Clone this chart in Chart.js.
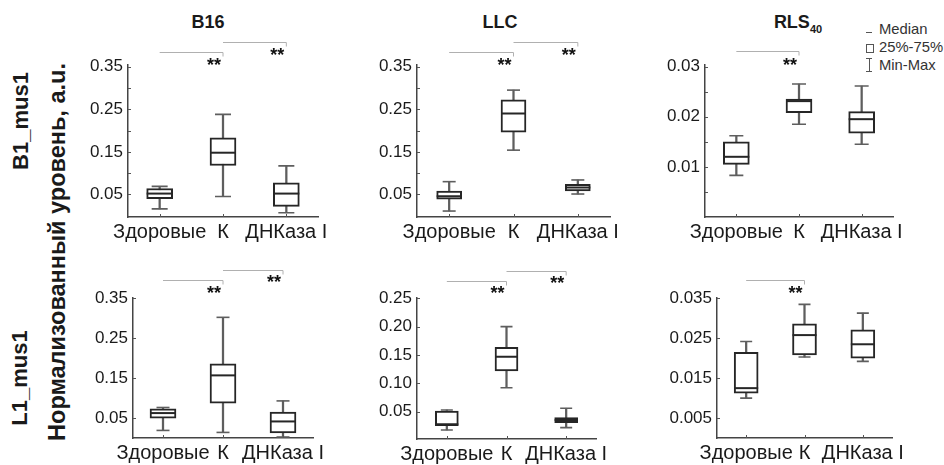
<!DOCTYPE html>
<html><head><meta charset="utf-8">
<script src="https://cdn.jsdelivr.net/npm/chart.js@4.4.1/dist/chart.umd.min.js"></script>
<style>
body{margin:0;background:#fff;width:944px;height:465px;overflow:hidden;position:relative;font-family:"Liberation Sans",Arial,sans-serif;color:#1a1a1a}
canvas{position:absolute}
.t{position:absolute;font-weight:bold;font-size:18px;transform:translate(-50%,-50%);white-space:nowrap}
.t sub{font-size:11px;vertical-align:-5px}
.r{position:absolute;font-weight:bold;transform:translate(-50%,-50%) rotate(-90deg);white-space:nowrap}
.lg{position:absolute;left:879px;top:20px;font-size:14.8px;line-height:18px;color:#333;white-space:nowrap}
.ic{position:absolute;border-color:#555;border-style:solid;border-width:0}
</style></head><body>
<div class="t" style="left:208px;top:22px">B16</div>
<div class="t" style="left:500px;top:22px">LLC</div>
<div class="t" style="left:798px;top:23px">RLS<sub>40</sub></div>
<div class="r" style="left:21px;top:121px;font-size:22px">B1_mus1</div>
<div class="r" style="left:20px;top:378px;font-size:22px">L1_mus1</div>
<div class="r" style="left:57px;top:252px;font-size:23.5px">Нормализованный уровень, a.u.</div>
<div class="lg">Median<br>25%-75%<br>Min-Max</div>
<div class="ic" style="left:866px;top:32px;width:6px;height:0;border-top-width:1.5px"></div>
<div class="ic" style="left:866px;top:44px;width:6px;height:7px;border-width:1px"></div>
<div class="ic" style="left:866px;top:58px;width:6px;height:0;border-top-width:1px"></div>
<div class="ic" style="left:869px;top:58px;width:0;height:13px;border-left-width:1px"></div>
<div class="ic" style="left:866px;top:71px;width:6px;height:0;border-top-width:1px"></div>
<script>
// ---- data ----
const categories = ['Здоровые', 'К', 'ДНКаза I'];

// B1_mus1 / B16
const b1B16Min = [0.016, 0.045, 0.007];
const b1B16Q1  = [0.040, 0.118, 0.022];
const b1B16Med = [0.052, 0.148, 0.052];
const b1B16Q3  = [0.064, 0.183, 0.077];
const b1B16Max = [0.069, 0.238, 0.117];
// B1_mus1 / LLC
const b1LLCMin = [0.011, 0.154, 0.051];
const b1LLCQ1  = [0.039, 0.196, 0.058];
const b1LLCMed = [0.046, 0.240, 0.066];
const b1LLCQ3  = [0.058, 0.272, 0.074];
const b1LLCMax = [0.080, 0.295, 0.084];
// B1_mus1 / RLS40
const b1RLSMin = [0.0083, 0.0185, 0.0145];
const b1RLSQ1  = [0.0105, 0.0208, 0.0167];
const b1RLSMed = [0.0120, 0.0231, 0.0195];
const b1RLSQ3  = [0.0150, 0.0235, 0.0210];
const b1RLSMax = [0.0162, 0.0265, 0.0261];
// L1_mus1 / B16
const l1B16Min = [0.019, 0.014, 0.0025];
const l1B16Q1  = [0.050, 0.0875, 0.0125];
const l1B16Med = [0.0625, 0.157, 0.0415];
const l1B16Q3  = [0.073, 0.186, 0.065];
const l1B16Max = [0.0765, 0.3025, 0.093];
// L1_mus1 / LLC
const l1LLCMin = [0.0177, 0.0923, 0.0218];
const l1LLCQ1  = [0.0253, 0.1218, 0.0306];
const l1LLCMed = [0.028, 0.147, 0.0354];
const l1LLCQ3  = [0.051, 0.1636, 0.0394];
const l1LLCMax = [0.053, 0.200, 0.056];
// L1_mus1 / RLS40
const l1RLSMin = [0.0100, 0.0203, 0.0192];
const l1RLSQ1  = [0.01125, 0.0208, 0.0200];
const l1RLSMed = [0.0125, 0.0258, 0.0235];
const l1RLSQ3  = [0.0215, 0.0286, 0.0271];
const l1RLSMax = [0.0242, 0.0335, 0.0313];

// tick values and labels
const ticksB16 = [0.05, 0.10, 0.15, 0.20, 0.25, 0.30, 0.35];
const labelsB16 = ['0.05', '', '0.15', '', '0.25', '', '0.35'];
const ticksRLSTop = [0.005, 0.010, 0.015, 0.020, 0.025, 0.030];
const labelsRLSTop = ['', '0.01', '', '0.02', '', '0.03'];
const ticksLLCBottom = [0.05, 0.10, 0.15, 0.20, 0.25];
const labelsLLCBottom = ['0.05', '0.10', '0.15', '0.20', '0.25'];
const ticksRLSBottom = [0.005, 0.010, 0.015, 0.020, 0.025, 0.030, 0.035];
const labelsRLSBottom = ['0.005', '', '0.015', '', '0.025', '', '0.035'];

// significance pairs (category indices) and marks
const pairsTwo = [[0, 1], [1, 2]];
const pairsOne = [[0, 1]];
const sigMark = '**';

// ---- drawing ----
Chart.defaults.font.family = '"Liberation Sans", Arial, sans-serif';
Chart.defaults.color = '#1a1a1a';

const decor = {
  id: 'decor',
  afterDraw(chart, args, o) {
    const ctx = chart.ctx, xs = chart.scales.x, ys = chart.scales.y, ca = chart.chartArea;
    ctx.save();
    ctx.strokeStyle = '#555'; ctx.lineWidth = 1;
    ys.ticks.forEach(t => {
      const y = Math.round(ys.getPixelForValue(t.value)) + 0.5;
      ctx.beginPath(); ctx.moveTo(ca.left, y); ctx.lineTo(ca.left + 3, y); ctx.stroke();
    });
    categories.forEach((c, i) => {
      const x = Math.round(xs.getPixelForValue(i)) + 0.5;
      ctx.beginPath(); ctx.moveTo(x, ca.bottom); ctx.lineTo(x, ca.bottom - 3); ctx.stroke();
    });
    o.pairs.forEach((p, k) => {
      const x1 = xs.getPixelForValue(p[0]), x2 = xs.getPixelForValue(p[1]);
      const y = Math.round(ca.top - o.bOff[k]) + 0.5;
      ctx.strokeStyle = '#b0b0b0'; ctx.lineWidth = 1;
      ctx.beginPath(); ctx.moveTo(x1, y); ctx.lineTo(x2, y); ctx.lineTo(x2, y + 4); ctx.stroke();
      ctx.fillStyle = '#111'; ctx.font = 'bold 18px "Liberation Sans", Arial';
      ctx.textAlign = 'center'; ctx.textBaseline = 'middle';
      ctx.fillText(sigMark, x2 - 9, ca.top - o.sOff[k] + 4);
    });
    ctx.restore();
  }
};

function panel(area, yMin, yMax, tickVals, tickLabels, mn, q1, med, q3, mx, boxW, capR, pairs, bOff, sOff) {
  const padL = 75, padT = 60, padR = 50, padB = 30;
  const cv = document.createElement('canvas');
  const w = area.r - area.l + padL + padR, h = area.b - area.t + padT + padB;
  cv.width = w; cv.height = h;
  cv.style.left = (area.l - padL) + 'px'; cv.style.top = (area.t - padT) + 'px';
  cv.style.width = w + 'px'; cv.style.height = h + 'px';
  document.body.appendChild(cv);
  const boxes = q1.map((v, i) => [v, q3[i]]);
  const whiskers = mn.map((v, i) => [v, mx[i]]);
  new Chart(cv, {
    type: 'bar',
    data: {
      labels: categories,
      datasets: [
        {type: 'bar', data: whiskers, backgroundColor: '#5e5e5e', borderWidth: 0, barThickness: 1.6, grouped: false, order: 4},
        {type: 'bar', data: boxes, backgroundColor: '#ffffff', borderColor: '#262626', borderWidth: 2, borderSkipped: false, barThickness: boxW, grouped: false, order: 3},
        {type: 'line', data: mn, showLine: false, pointStyle: 'line', pointRadius: capR, pointHoverRadius: capR, pointBorderColor: '#5e5e5e', pointBorderWidth: 1.6, order: 2},
        {type: 'line', data: mx, showLine: false, pointStyle: 'line', pointRadius: capR, pointHoverRadius: capR, pointBorderColor: '#5e5e5e', pointBorderWidth: 1.6, order: 2},
        {type: 'line', data: med, showLine: false, pointStyle: 'line', pointRadius: boxW / 2, pointHoverRadius: boxW / 2, pointBorderColor: '#262626', pointBorderWidth: 2, order: 1}
      ]
    },
    options: {
      responsive: false, animation: false, devicePixelRatio: 1,
      layout: {padding: {top: padT, right: padR, left: 0, bottom: 0}},
      plugins: {legend: {display: false}, tooltip: {enabled: false}, decor: {pairs, bOff, sOff}},
      scales: {
        x: {
          offset: true,
          grid: {display: false, drawTicks: false},
          border: {display: true, color: '#444', width: 1.5},
          ticks: {font: {size: 20}, padding: 3, maxRotation: 0, autoSkip: false},
          afterFit: s => { s.height = padB; }
        },
        y: {
          min: yMin, max: yMax,
          grid: {display: false, drawTicks: false},
          border: {display: true, color: '#444', width: 1.5},
          ticks: {font: {size: 17}, padding: 5, callback: (v, i) => tickLabels[i]},
          afterBuildTicks: s => { s.ticks = tickVals.map(v => ({value: v})); },
          afterFit: s => { s.width = padL; }
        }
      }
    },
    plugins: [decor]
  });
}

panel({l: 128, r: 318, t: 65, b: 217}, -0.003, 0.354, ticksB16, labelsB16, b1B16Min, b1B16Q1, b1B16Med, b1B16Q3, b1B16Max, 26, 8, pairsTwo, [13, 23], [3, 13]);
panel({l: 417, r: 610, t: 65, b: 217}, -0.003, 0.354, ticksB16, labelsB16, b1LLCMin, b1LLCQ1, b1LLCMed, b1LLCQ3, b1LLCMax, 25, 6.5, pairsTwo, [13, 23], [3, 13]);
panel({l: 705, r: 893, t: 65, b: 217}, 0, 0.0303, ticksRLSTop, labelsRLSTop, b1RLSMin, b1RLSQ1, b1RLSMed, b1RLSQ3, b1RLSMax, 26, 7, pairsOne, [14], [3]);
panel({l: 133, r: 313, t: 298, b: 438}, 0, 0.351, ticksB16, labelsB16, l1B16Min, l1B16Q1, l1B16Med, l1B16Q3, l1B16Max, 26, 6.5, pairsTwo, [18, 28], [8, 19]);
panel({l: 417, r: 596, t: 298, b: 439}, 0.0018, 0.2505, ticksLLCBottom, labelsLLCBottom, l1LLCMin, l1LLCQ1, l1LLCMed, l1LLCQ3, l1LLCMax, 23, 6, pairsTwo, [17, 27], [8, 18]);
panel({l: 717, r: 892, t: 298, b: 438}, 0, 0.0351, ticksRLSBottom, labelsRLSBottom, l1RLSMin, l1RLSQ1, l1RLSMed, l1RLSQ3, l1RLSMax, 24, 6, pairsOne, [18], [8]);
</script>
</body></html>
